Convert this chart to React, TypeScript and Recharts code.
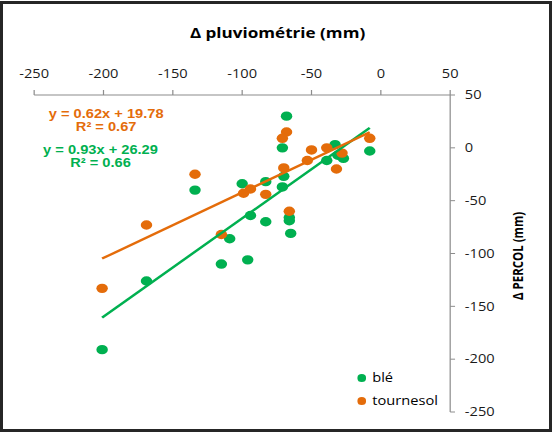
import React from 'react';
import { ScatterChart, Scatter, XAxis, YAxis } from 'recharts';

// ---- data ----
const bleX = [-68, -71, -33, -39, -31, -27, -8, -70, -71, -100, -83, -94, -83, -66, -66, -65, -109, -115, -96, -134, -169, -201];
const bleY = [30, 0, 3, -12, -7, -10, -3, -27, -37, -34, -32, -64, -70, -66, -69, -81, -86, -110, -106, -40, -126, -191];
const tournesolX = [-68, -71, -50, -39, -53, -28, -8, -32, -70, -94, -99, -83, -66, -115, -134, -169, -201];
const tournesolY = [15, 9, -2, 0, -12, -5, 9, -20, -19, -39, -43, -44, -60, -82, -25, -73, -133];

const seriesNames = ['blé', 'tournesol'];
const seriesColors = ['#00B050', '#E46C0A'];
const trendSlopes = [0.93, 0.62];
const trendIntercepts = [26.29, 19.78];
const trendR2 = [0.66, 0.67];

const xTicks = [-250, -200, -150, -100, -50, 0, 50];
const yTicks = [50, 0, -50, -100, -150, -200, -250];
const xTitle = 'Δ pluviométrie (mm)';
const yTitle = 'Δ PERCOL (mm)';

const toPoints = (xs: number[], ys: number[]) => xs.map((x, i) => ({ x, y: ys[i] }));
const blePts = toPoints(bleX, bleY);
const tournesolPts = toPoints(tournesolX, tournesolY);

const trendPts = (xs: number[], k: number) => {
  const lo = Math.min(...xs);
  const hi = Math.max(...xs);
  return [lo, hi].map((x) => ({ x, y: trendSlopes[k] * x + trendIntercepts[k] }));
};
const bleTrend = trendPts(bleX, 0);
const tournesolTrend = trendPts(tournesolX, 1);

const fmt = (v: number) => v.toFixed(2);
const eqText = (k: number) => `y = ${fmt(trendSlopes[k])}x + ${fmt(trendIntercepts[k])}`;
const r2Text = (k: number) => `R² = ${fmt(trendR2[k])}`;

const dot = (color: string) => (props: any) => (
  <circle cx={props.cx} cy={props.cy} r={4.7} fill={color} stroke="none" />
);
const noDot = () => <g />;

const tickFont = { fontFamily: '"Open Sans", sans-serif', fontSize: 12, fill: '#1a1a1a' };

export default function App() {
  return (
    <div style={{ position: 'absolute', left: 0, top: 0, width: 552, height: 432, background: '#fff', overflow: 'hidden' }}>
      <div
        style={{
          position: 'absolute',
          left: 0,
          top: 0,
          width: 452,
          height: 432,
          transform: 'scaleX(1.22)',
          transformOrigin: '0 0',
        }}
      >
        <ScatterChart width={452} height={432} margin={{ top: 65, right: 33, bottom: 20, left: 28 }}>
          <XAxis
            type="number"
            dataKey="x"
            orientation="top"
            height={30}
            domain={[-250, 50]}
            ticks={xTicks}
            allowDataOverflow
            tickSize={5}
            tickMargin={12}
            stroke="#8c8c8c"
            tick={tickFont}
          />
          <YAxis
            type="number"
            dataKey="y"
            orientation="right"
            width={50}
            domain={[-250, 50]}
            ticks={yTicks}
            allowDataOverflow
            tickSize={4}
            tickMargin={8}
            stroke="#8c8c8c"
            tick={{ ...tickFont, textAnchor: 'start' }}
          />
          <Scatter name={seriesNames[0]} data={blePts} shape={dot(seriesColors[0])} isAnimationActive={false} />
          <Scatter name={seriesNames[1]} data={tournesolPts} shape={dot(seriesColors[1])} isAnimationActive={false} />
          <Scatter
            data={bleTrend}
            line={{ stroke: seriesColors[0], strokeWidth: 2.3 }}
            shape={noDot}
            legendType="none"
            isAnimationActive={false}
          />
          <Scatter
            data={tournesolTrend}
            line={{ stroke: seriesColors[1], strokeWidth: 2.3 }}
            shape={noDot}
            legendType="none"
            isAnimationActive={false}
          />
        </ScatterChart>

        {/* chart title */}
        <div
          style={{
            position: 'absolute',
            left: 127.5,
            width: 200,
            top: 23,
            lineHeight: '20px',
            textAlign: 'center',
            fontFamily: '"Open Sans", sans-serif',
            fontWeight: 700,
            fontSize: 14,
            color: '#000',
            whiteSpace: 'nowrap',
          }}
        >
          {xTitle}
        </div>

        {/* y axis title */}
        <div
          style={{
            position: 'absolute',
            left: 364.6,
            width: 120,
            top: 248,
            height: 16,
            lineHeight: '16px',
            textAlign: 'center',
            transform: 'rotate(-90deg)',
            transformOrigin: '50% 50%',
            fontFamily: '"Open Sans", sans-serif',
            fontWeight: 700,
            fontSize: 11.5,
            color: '#000',
            whiteSpace: 'nowrap',
          }}
        >
          {yTitle}
        </div>

        {/* trendline equations */}
        {[
          { k: 1, cx: 87, cy: [114, 127] },
          { k: 0, cx: 82.4, cy: [150, 163] },
        ].map(({ k, cx, cy }) => (
          <React.Fragment key={k}>
            {[eqText(k), r2Text(k)].map((t, j) => (
              <div
                key={j}
                style={{
                  position: 'absolute',
                  left: cx - 70,
                  width: 140,
                  top: cy[j] - 7,
                  lineHeight: '14px',
                  textAlign: 'center',
                  fontFamily: '"Liberation Sans", Arial, sans-serif',
                  fontWeight: 700,
                  fontSize: 12,
                  color: seriesColors[k],
                  whiteSpace: 'nowrap',
                }}
              >
                {t}
              </div>
            ))}
          </React.Fragment>
        ))}

        {/* legend */}
        {seriesNames.map((name, i) => (
          <div
            key={name}
            style={{
              position: 'absolute',
              left: 292.5,
              top: 378 + i * 23 - 8,
              height: 16,
              lineHeight: '16px',
              display: 'flex',
              alignItems: 'center',
              fontFamily: '"Open Sans", sans-serif',
              fontSize: 12,
              color: '#000',
              whiteSpace: 'nowrap',
            }}
          >
            <span
              style={{
                display: 'inline-block',
                width: 7.6,
                height: 7.6,
                borderRadius: '50%',
                background: seriesColors[i],
                marginRight: 5,
              }}
            />
            {name}
          </div>
        ))}
      </div>

      {/* outer frame */}
      <div
        style={{
          position: 'absolute',
          left: 0,
          top: 1,
          width: 552,
          height: 431,
          boxSizing: 'border-box',
          border: '3px solid #262626',
          pointerEvents: 'none',
        }}
      />
    </div>
  );
}
